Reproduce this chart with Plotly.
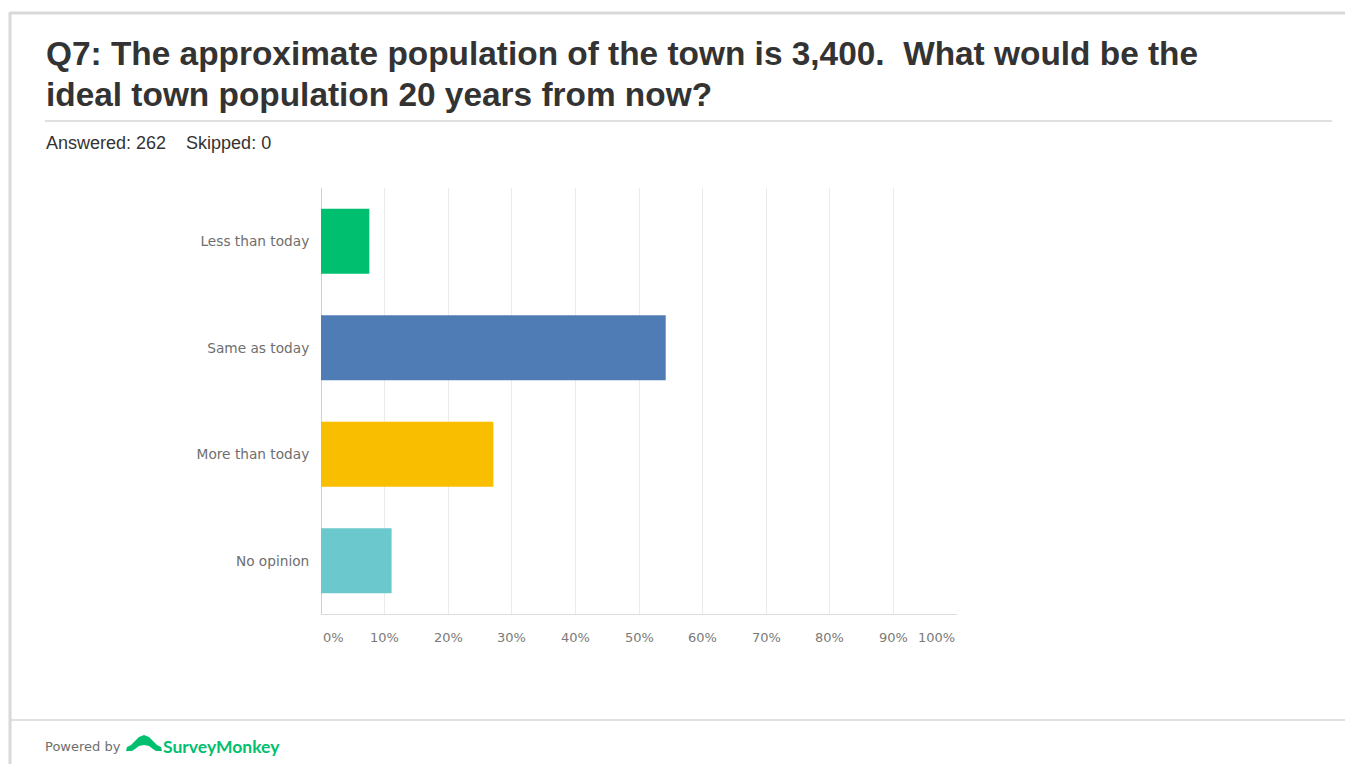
import plotly.graph_objects as go

# ---- data ----
categories = ["Less than today", "Same as today", "More than today", "No opinion"]
percents = [7.6, 54.2, 27.1, 11.1]
bar_colors = ["#00BF6F", "#507CB6", "#F9BE00", "#6BC8CD"]
tick_values = [0, 10, 20, 30, 40, 50, 60, 70, 80, 90, 100]
tick_labels = ["0%", "10%", "20%", "30%", "40%", "50%", "60%", "70%", "80%", "90%", "100%"]
title_line1 = "Q7: The approximate population of the town is 3,400.  What would be the"
title_line2 = "ideal town population 20 years from now?"
answered_text = "Answered: 262&nbsp;&nbsp;&nbsp;&nbsp;Skipped: 0"

W, H = 1353, 764
OFF = 8  # page body margin of the browser


def px(x):
    return (x - OFF) / W


def py(y):
    return 1 - (y - OFF) / H


fig = go.Figure(
    go.Bar(
        x=percents,
        y=categories,
        orientation="h",
        marker=dict(color=bar_colors, line=dict(width=0)),
        width=0.61,
        hoverinfo="skip",
    )
)

fig.update_layout(
    width=W,
    height=H,
    margin=dict(l=0, r=0, t=0, b=0),
    paper_bgcolor="white",
    plot_bgcolor="white",
    showlegend=False,
    xaxis=dict(
        domain=[px(321), px(957)],
        range=[0, 100],
        dtick=10,
        showgrid=True,
        gridcolor="#ebebeb",
        gridwidth=1,
        showticklabels=False,
        zeroline=True,
        zerolinecolor="#d0d0d0",
        zerolinewidth=1,
        showline=True,
        linecolor="#dcdcdc",
        linewidth=1,
        fixedrange=True,
    ),
    yaxis=dict(
        domain=[py(614), py(188)],
        autorange="reversed",
        showgrid=False,
        ticks="outside",
        ticklen=8,
        tickcolor="rgba(0,0,0,0)",
        tickfont=dict(family="DejaVu Sans", size=13.7, color="#6e6e6e"),
        showline=False,
        fixedrange=True,
    ),
)

annotations = []
# x tick labels placed on the axis scale
for v, t in zip(tick_values, tick_labels):
    anchor = "center"
    if v == tick_values[0]:
        anchor = "left"
    elif v == tick_values[-1]:
        anchor = "right"
    annotations.append(dict(
        x=v, y=py(637), xref="x", yref="paper", text=t, showarrow=False,
        xanchor=anchor, yanchor="middle",
        font=dict(family="DejaVu Sans", size=13, color="#7a7a7a"),
    ))

annotations += [
    dict(x=px(44), y=py(54), xref="paper", yref="paper", text="<b>" + title_line1 + "</b>",
         showarrow=False, xanchor="left", yanchor="middle",
         font=dict(family="Liberation Sans", size=33.4, color="#333333")),
    dict(x=px(44), y=py(94), xref="paper", yref="paper", text="<b>" + title_line2 + "</b>",
         showarrow=False, xanchor="left", yanchor="middle",
         font=dict(family="Liberation Sans", size=33.4, color="#333333")),
    dict(x=px(44), y=py(143), xref="paper", yref="paper", text=answered_text,
         showarrow=False, xanchor="left", yanchor="middle",
         font=dict(family="Liberation Sans", size=18, color="#333333")),
    dict(x=px(43), y=py(746), xref="paper", yref="paper", text="Powered by",
         showarrow=False, xanchor="left", yanchor="middle",
         font=dict(family="DejaVu Sans", size=13, color="#6e6e6e")),
    dict(x=px(161), y=py(746), xref="paper", yref="paper", text="<b>SurveyMonkey</b>",
         showarrow=False, xanchor="left", yanchor="middle",
         font=dict(family="Lato", size=17.5, color="#00BF6F")),
]
fig.update_layout(annotations=annotations)

logo_outer = [(126, 751), (127, 747), (131, 745), (135, 741), (139, 737), (144, 735),
              (149, 737), (153, 741), (157, 745), (161, 747), (162, 751)]
logo_inner = [(156, 751), (153, 749), (149, 746), (144, 745), (139, 746), (135, 749), (132, 751)]
logo_path = "M " + " L ".join(f"{px(x)},{py(y)}" for x, y in logo_outer + logo_inner) + " Z"

shapes = [
    # outer frame: top and left borders
    dict(type="line", xref="paper", yref="paper", x0=px(10), x1=1, y0=py(13), y1=py(13),
         line=dict(color="#d9d9d9", width=3)),
    dict(type="line", xref="paper", yref="paper", x0=px(10), x1=px(10), y0=py(12), y1=0,
         line=dict(color="#d9d9d9", width=3)),
    # separator under title
    dict(type="line", xref="paper", yref="paper", x0=px(45), x1=px(1332), y0=py(121), y1=py(121),
         line=dict(color="#d6d6d6", width=1.5)),
    # footer separator
    dict(type="line", xref="paper", yref="paper", x0=px(11), x1=1, y0=py(720), y1=py(720),
         line=dict(color="#d6d6d6", width=1.5)),
    # SurveyMonkey logo glyph (decorative)
    dict(type="path", xref="paper", yref="paper", path=logo_path,
         fillcolor="#00BF6F", line=dict(width=0)),
]
fig.update_layout(shapes=shapes)

fig.write_html("out.html")
